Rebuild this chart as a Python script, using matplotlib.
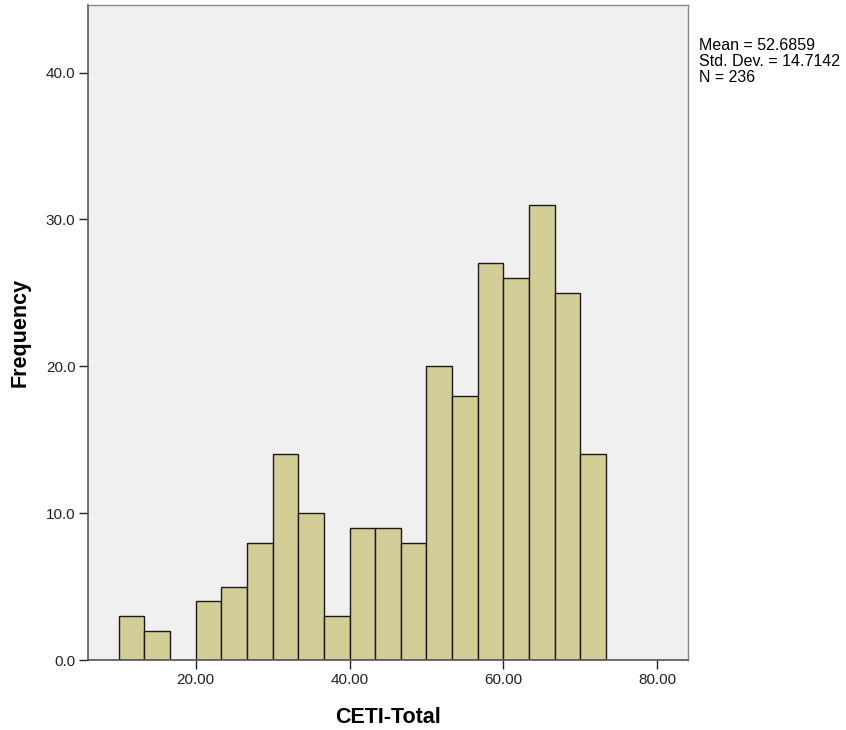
import numpy as np
import matplotlib
matplotlib.use("Agg")
import matplotlib.pyplot as plt

plt.rcParams['font.family'] = ['Liberation Sans', 'DejaVu Sans']

# Histogram data (CETI-Total)
bin_start = 10.0
bin_width = 10.0 / 3.0
counts = [3, 2, 0, 4, 5, 8, 14, 10, 3, 9, 9, 8, 20, 18, 27, 26, 31, 25, 14]
stats_lines = ["Mean = 52.6859", "Std. Dev. = 14.7142", "N = 236"]
x_ticks = [20, 40, 60, 80]
y_ticks = [0, 10, 20, 30, 40]

edges = bin_start + bin_width * np.arange(len(counts) + 1)

fig = plt.figure(figsize=(8.46, 7.30), dpi=100)
ax = fig.add_axes([88 / 846, 70 / 730, 600 / 846, 655 / 730])
ax.set_facecolor("#f0f0f0")

ax.bar(edges[:-1], counts, width=bin_width, align="edge",
       color="#d3ce97", edgecolor="#1a1a1a", linewidth=1.0)

ax.set_xlim(6.0, 84.0)
ax.set_ylim(0, 44.6)
ax.set_xticks(x_ticks)
ax.set_xticklabels(["%.2f" % v for v in x_ticks])
ax.set_yticks(y_ticks)
ax.set_yticklabels(["%.1f" % v for v in y_ticks])
ax.tick_params(direction="out", length=6.5, width=1, colors="#222222",
               labelsize=11, pad=2.5)

for side in ["left", "bottom"]:
    ax.spines[side].set_color("#555555")
    ax.spines[side].set_linewidth(1.2)
for side in ["top", "right"]:
    ax.spines[side].set_color("#888888")
    ax.spines[side].set_linewidth(1.0)

ax.set_xlabel("CETI-Total", fontsize=15.5, fontweight="bold", labelpad=15)
ax.set_ylabel("Frequency", fontsize=15.5, fontweight="bold", labelpad=11)

fig.text(699 / 846, 1 - 38 / 730, "\n".join(stats_lines), fontsize=11.5,
         va="top", ha="left", linespacing=1.08)

fig.savefig("out.png", dpi=100)
